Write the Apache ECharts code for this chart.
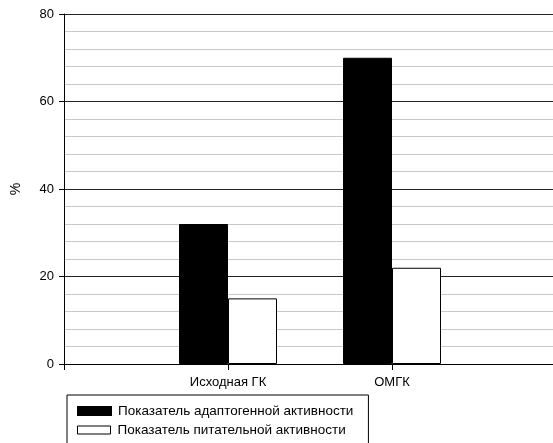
<!DOCTYPE html>
<html><head><meta charset="utf-8">
<script src="https://cdn.jsdelivr.net/npm/echarts@6/dist/echarts.min.js"></script>
<style>html,body{margin:0;padding:0;background:#fff}#c{width:553px;height:443px}</style>
</head><body><div id="c"></div>
<script>
const categories = ['', 'Исходная ГК', 'ОМГК', ''];
const seriesNames = ['Показатель адаптогенной активности', 'Показатель питательной активности'];
const adaptogenic = [null, 32, 70, null];
const nutritional = [null, 15, 22, null];
const yTicks = [0, 20, 40, 60, 80];

const chart = echarts.init(document.getElementById('c'), null, {renderer: 'canvas'});
const font = 'Liberation Sans, Arial, sans-serif';
const legendText = {fontFamily: font, fontSize: 13.5, color: '#000', padding: [0, 0, 0, 2]};
chart.setOption({
  animation: false,
  backgroundColor: '#fff',
  grid: {left: 64, top: 14, height: 350, width: 492, containLabel: false, outerBoundsMode: 'none'},
  legend: [{
    orient: 'vertical', left: 67, top: 395,
    padding: [9, 15, 30, 10],
    itemWidth: 33, itemHeight: 8,
    borderColor: '#000', borderWidth: 1,
    icon: 'rect',
    textStyle: legendText,
    data: [seriesNames[0]]
  }, {
    orient: 'vertical', left: 67, top: 423,
    padding: [0, 15, 0, 10],
    itemWidth: 33, itemHeight: 8,
    icon: 'rect',
    itemStyle: {borderWidth: 1, borderColor: '#000'},
    textStyle: legendText,
    data: [seriesNames[1]]
  }],
  xAxis: {
    type: 'category', data: categories, boundaryGap: false,
    axisLine: {lineStyle: {color: '#000', width: 1}},
    axisTick: {show: true, length: 6, lineStyle: {color: '#000'}},
    axisLabel: {fontFamily: font, fontSize: 13, color: '#000', margin: 12, interval: 0},
    splitLine: {show: false}
  },
  yAxis: {
    type: 'value', min: yTicks[0], max: yTicks[yTicks.length - 1], interval: 20,
    name: '%', nameLocation: 'middle', nameRotate: 90, nameGap: 41,
    nameTextStyle: {fontFamily: font, fontSize: 14, color: '#000'},
    axisLine: {show: true, lineStyle: {color: '#000', width: 1}},
    axisTick: {show: true, length: 5, lineStyle: {color: '#000'}},
    axisLabel: {fontFamily: font, fontSize: 13, color: '#000', margin: 10},
    splitLine: {show: true, lineStyle: {color: '#222', width: 1}},
    minorTick: {show: false, splitNumber: 5},
    minorSplitLine: {show: true, lineStyle: {color: '#c8c8c8', width: 1}}
  },
  series: [
    {name: seriesNames[0], type: 'bar', data: adaptogenic, barWidth: 49, barGap: '0%',
     itemStyle: {color: '#000', borderColor: '#000', borderWidth: 1}},
    {name: seriesNames[1], type: 'bar', data: nutritional, barWidth: 49, barGap: '0%',
     itemStyle: {color: '#fff', borderColor: '#000', borderWidth: 1}}
  ]
});
</script></body></html>
